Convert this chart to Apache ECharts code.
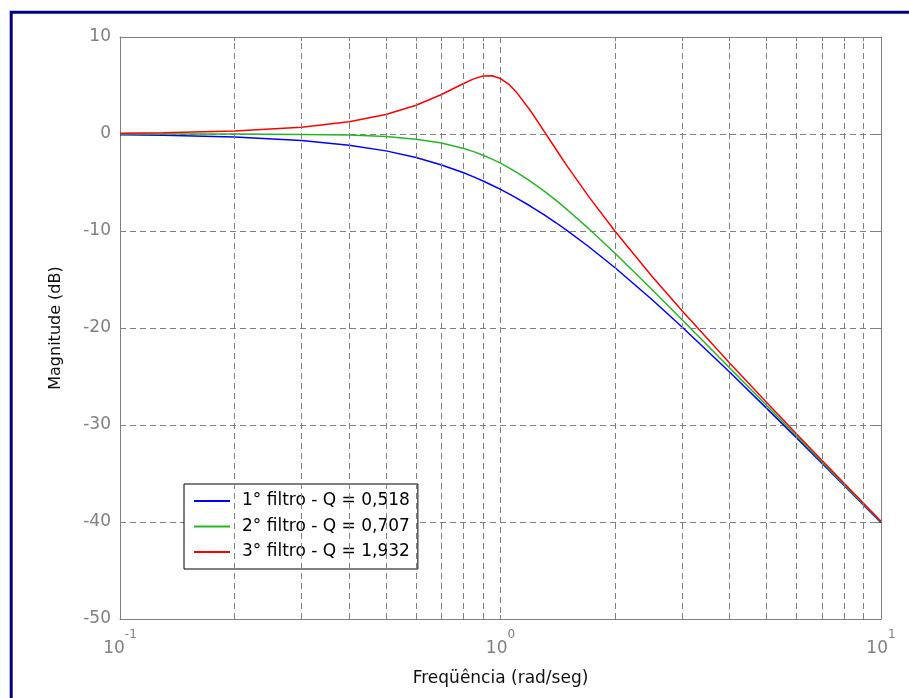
<!DOCTYPE html>
<html>
<head>
<meta charset="utf-8">
<script src="https://cdn.jsdelivr.net/npm/echarts@6/dist/echarts.min.js"></script>
<style>
html,body{margin:0;padding:0;background:#fff;}
#chart{width:909px;height:698px;}
</style>
</head>
<body>
<div id="chart"></div>
<script>
// ---- data ----
const freq = [0.1,0.13,0.2,0.3,0.4,0.5,0.6,0.7,0.8,0.85,0.9,0.95,1.0,1.05,1.1,1.2,1.3,1.4,1.5,1.7,2,2.5,3,4,5,6,7,8,10];
const blueDb = [-0.07,-0.13,-0.30,-0.66,-1.15,-1.74,-2.43,-3.19,-4.00,-4.42,-4.85,-5.28,-5.71,-6.15,-6.58,-7.45,-8.31,-9.15,-9.98,-11.57,-13.79,-17.06,-19.89,-24.54,-28.26,-31.33,-33.96,-36.24,-40.08];
const greenDb = [0.00,0.00,-0.01,-0.04,-0.11,-0.26,-0.53,-0.93,-1.49,-1.82,-2.19,-2.59,-3.01,-3.46,-3.92,-4.88,-5.86,-6.85,-7.83,-9.71,-12.30,-16.03,-19.14,-24.10,-27.97,-31.13,-33.81,-36.13,-40.00];
const redDb = [0.08,0.13,0.30,0.69,1.26,2.01,2.96,4.07,5.21,5.68,5.97,6.00,5.72,5.15,4.34,2.37,0.32,-1.60,-3.36,-6.38,-10.03,-14.66,-18.22,-23.60,-27.65,-30.92,-33.65,-36.01,-39.93];
const seriesNames = ['1\u00b0 filtro - Q = 0,518','2\u00b0 filtro - Q = 0,707','3\u00b0 filtro - Q = 1,932'];
const xTickValues = [0.1, 1, 10];
const xTickExps = ['-1', '0', '1'];
const minorX = [0.2,0.3,0.4,0.5,0.6,0.7,0.8,0.9,2,3,4,5,6,7,8,9];
const yMin = -50, yMax = 10, yStep = 10;

const FONT = 'DejaVu Sans';
const GRAY = '#808080';

function pairs(ys){ return freq.map((f,i)=>[f, ys[i]]); }

// grid helpers (through the library's scales)
const tickLen = 0.45;
const markData = [];
minorX.forEach(v=>{
  markData.push({xAxis: v});
  markData.push([{coord:[v, yMin], lineStyle:{type:'solid'}},{coord:[v, yMin + tickLen]}]);
  markData.push([{coord:[v, yMax], lineStyle:{type:'solid'}},{coord:[v, yMax - tickLen]}]);
});

const chart = echarts.init(document.getElementById('chart'));
chart.setOption({
  animation: false,
  backgroundColor: '#fff',
  textStyle: {fontFamily: FONT},
  graphic: [{
    type: 'rect', silent: true, z: 100,
    shape: {x: 11.2, y: 12.2, width: 1200, height: 1200},
    style: {fill: 'none', stroke: '#000080', lineWidth: 3}
  }],
  grid: {left: 120, right: 28, top: 37, bottom: 79, containLabel: false},
  legend: {
    data: seriesNames,
    orient: 'vertical',
    left: 184, top: 484,
    padding: [7, 8, 7, 10],
    itemGap: 5.5,
    itemWidth: 36, itemHeight: 2,
    icon: 'rect',
    backgroundColor: '#fff',
    borderColor: '#000', borderWidth: 1, borderRadius: 0,
    textStyle: {fontFamily: FONT, fontSize: 17, color: '#000', lineHeight: 20, padding: [0,0,0,7]}
  },
  xAxis: [{
    type: 'log', logBase: 10, min: 0.1, max: 10,
    position: 'bottom',
    name: 'Freq\u00fc\u00eancia (rad/seg)',
    nameLocation: 'middle', nameGap: 51,
    nameTextStyle: {fontFamily: FONT, fontSize: 17, color: '#111'},
    axisLine: {show: true, onZero: false, lineStyle: {color: GRAY, width: 1}},
    axisTick: {show: true, inside: true, length: 4, lineStyle: {color: GRAY}},
    splitLine: {show: true, lineStyle: {color: GRAY, type: [6,4], width: 1}},
    minorTick: {show: false}, minorSplitLine: {show: false},
    axisLabel: {
      margin: 15,
      formatter: function(v){
        let idx = xTickValues.findIndex(t => Math.abs(Math.log10(t) - Math.log10(v)) < 1e-6);
        if (idx < 0) return '';
        return '{b|10}{s|' + xTickExps[idx] + '}';
      },
      rich: {
        b: {fontFamily: FONT, fontSize: 17, color: GRAY, lineHeight: 17, padding: [12,0,0,0]},
        s: {fontFamily: FONT, fontSize: 12, color: GRAY, lineHeight: 14, padding: [0,0,15,0]}
      }
    }
  },{
    type: 'log', logBase: 10, min: 0.1, max: 10,
    position: 'top',
    axisLine: {show: true, onZero: false, lineStyle: {color: GRAY, width: 1}},
    axisTick: {show: true, inside: true, length: 4, lineStyle: {color: GRAY}},
    axisLabel: {show: false},
    splitLine: {show: false}
  }],
  yAxis: [{
    type: 'value', min: yMin, max: yMax, interval: yStep,
    position: 'left',
    name: 'Magnitude (dB)',
    nameLocation: 'middle', nameGap: 56,
    nameTextStyle: {fontFamily: FONT, fontSize: 16, color: '#111'},
    axisLine: {show: true, onZero: false, lineStyle: {color: GRAY, width: 1}},
    axisTick: {show: true, inside: true, length: 5, lineStyle: {color: GRAY}},
    splitLine: {show: true, lineStyle: {color: GRAY, type: [6,4], width: 1}},
    axisLabel: {margin: 9, fontFamily: FONT, fontSize: 17, color: GRAY}
  },{
    type: 'value', min: yMin, max: yMax, interval: yStep,
    position: 'right',
    axisLine: {show: true, onZero: false, lineStyle: {color: GRAY, width: 1}},
    axisTick: {show: true, inside: true, length: 5, lineStyle: {color: GRAY}},
    axisLabel: {show: false},
    splitLine: {show: false}
  }],
  series: [{
    name: '_grid', type: 'line', data: [], z: 1, silent: true,
    xAxisIndex: 0, yAxisIndex: 0,
    markLine: {
      silent: true, symbol: ['none','none'], label: {show: false},
      lineStyle: {color: GRAY, type: [6,4], width: 1},
      emphasis: {disabled: true},
      data: markData
    }
  },{
    name: seriesNames[0], type: 'line', data: pairs(blueDb), z: 3,
    showSymbol: false, symbol: 'none', smooth: false,
    lineStyle: {color: '#0000ff', width: 1.5}, itemStyle: {color: '#0000ff'}
  },{
    name: seriesNames[1], type: 'line', data: pairs(greenDb), z: 3,
    showSymbol: false, symbol: 'none', smooth: false,
    lineStyle: {color: '#22b822', width: 1.5}, itemStyle: {color: '#22b822'}
  },{
    name: seriesNames[2], type: 'line', data: pairs(redDb), z: 3,
    showSymbol: false, symbol: 'none', smooth: false,
    lineStyle: {color: '#ff0000', width: 1.5}, itemStyle: {color: '#ff0000'}
  }]
});
</script>
</body>
</html>
